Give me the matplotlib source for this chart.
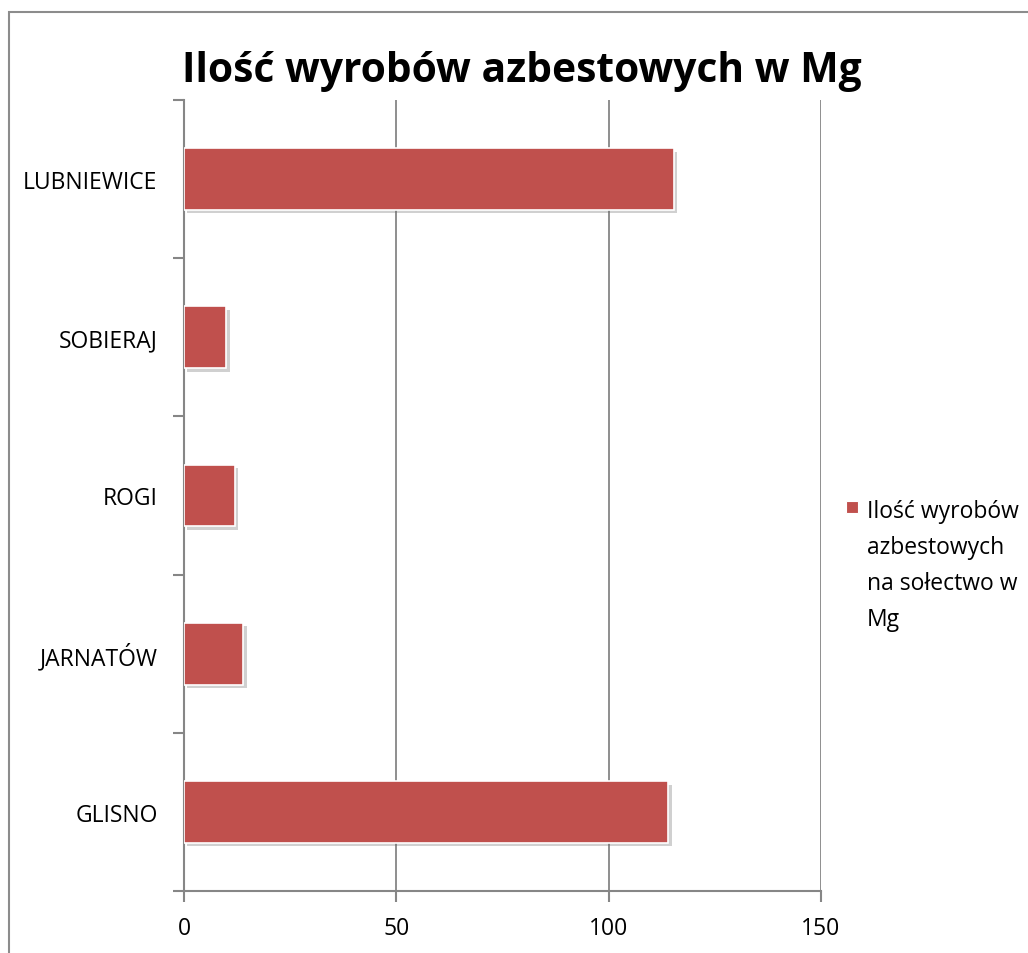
import matplotlib
matplotlib.use("Agg")
import matplotlib.pyplot as plt
from matplotlib.patches import Rectangle
import matplotlib.patheffects as pe

# dane
categories = ["GLISNO", "JARNATÓW", "ROGI", "SOBIERAJ", "LUBNIEWICE"]
values = [114.0, 14.0, 12.0, 10.0, 115.3]
xticks = [0, 50, 100, 150]
title = "Ilość wyrobów azbestowych w Mg"
series_label = "Ilość wyrobów\nazbestowych\nna sołectwo w\nMg"

plt.rcParams['font.family'] = ['Open Sans', 'DejaVu Sans']
bar_color = "#C0504D"
gray = "#868686"

fig = plt.figure(figsize=(10.28, 9.54), dpi=100)
ax = fig.add_axes([184 / 1028, 1 - 892 / 954, 637 / 1028, 791 / 954])

pos = list(range(len(categories)))
bars = ax.barh(pos, values, height=0.39, color=bar_color, edgecolor="white",
               linewidth=1.2, zorder=3)
for b in bars:
    b.set_path_effects([pe.SimplePatchShadow(offset=(2.5, -2.5), shadow_rgbFace="#666666", alpha=0.3),
                        pe.Normal()])

ax.set_xlim(0, 150)
ax.set_ylim(-0.5, len(categories) - 0.5)
ax.set_xticks(xticks)
ax.set_yticks(pos)
ax.set_yticklabels(categories)
ax.set_yticks([p - 0.5 for p in pos] + [len(categories) - 0.5], minor=True)
ax.tick_params(axis="y", which="major", length=0, pad=19, labelsize=16.5)
ax.tick_params(axis="y", which="minor", length=8, width=1.5, color=gray, direction="out")
ax.tick_params(axis="x", length=8, width=1.5, color=gray, direction="out", pad=10, labelsize=16.5)

ax.xaxis.grid(True, color=gray, linewidth=1.3, zorder=0)
ax.set_axisbelow(True)
for s in ["top", "right"]:
    ax.spines[s].set_visible(False)
for s in ["left", "bottom"]:
    ax.spines[s].set_color(gray)
    ax.spines[s].set_linewidth(1.5)

fig.text(522 / 1028, 1 - 72 / 954, title, ha="center", va="center",
         fontsize=29.3, fontweight="bold")

# legenda
fig.patches.append(Rectangle((846 / 1028, 1 - 514 / 954), 12 / 1028, 12 / 954,
                             transform=fig.transFigure, facecolor=bar_color,
                             edgecolor="white", linewidth=0.8))
fig.text(867 / 1028, 1 - 500 / 954, series_label, ha="left", va="top",
         fontsize=16.5, linespacing=1.66)

# ramka wykresu
fig.patches.append(Rectangle((9 / 1028, -0.1), 1.2, (954 - 13) / 954 + 0.1,
                             transform=fig.transFigure, fill=False,
                             edgecolor="#8c8c8c", linewidth=1.5))

fig.savefig("out.png", dpi=100)
